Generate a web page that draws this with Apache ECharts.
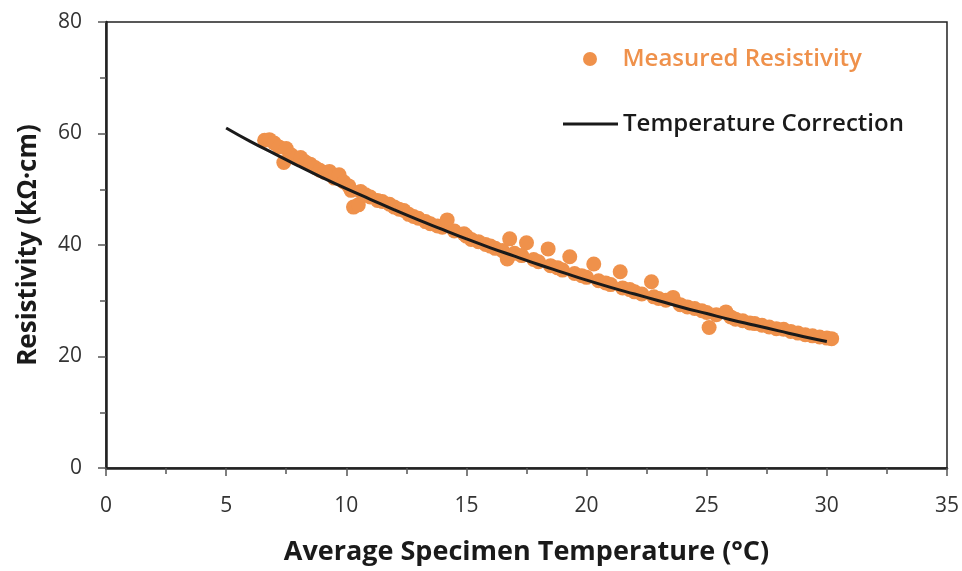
<!DOCTYPE html>
<html>
<head>
<meta charset="utf-8">
<script src="https://cdn.jsdelivr.net/npm/echarts@6/dist/echarts.min.js"></script>
<style>
  html, body { margin: 0; padding: 0; background: #fff; }
  #chart { width: 962px; height: 571px; }
</style>
</head>
<body>
<div id="chart"></div>
<script>
  // measured points, temperature (°C) and resistivity (kΩ·cm)
  let measuredTemp = [6.6, 6.8, 7.0, 7.2, 7.4, 7.5, 7.7, 7.9, 8.1, 8.3, 8.5, 8.7, 8.9, 9.1, 9.3, 9.5, 9.7, 9.9,
    10.1, 10.2, 10.3, 10.5, 10.6, 10.8, 11.0, 11.3, 11.5, 11.8, 12.0, 12.2, 12.4, 12.6, 12.8, 13.0, 13.3, 13.5,
    13.8, 14.0, 14.2, 14.5, 14.9, 15.0, 15.2, 15.5, 15.8, 16.0, 16.2, 16.5, 16.8, 16.7, 17.0, 17.3, 17.5, 17.8,
    18.0, 18.4, 18.5, 18.8, 19.0, 19.3, 19.5, 19.8, 20.0, 20.3, 20.5, 20.8, 21.0, 21.4, 21.5, 21.8, 22.0, 22.3,
    22.7, 22.8, 23.0, 23.3, 23.6, 23.9, 24.2, 24.5, 24.8, 25.0, 25.1, 25.4, 25.8, 26.0, 26.2, 26.5, 26.8, 27.0,
    27.3, 27.6, 27.9, 28.2, 28.5, 28.8, 29.1, 29.4, 29.7, 30.0, 30.2]
  let measuredRes = [58.8, 58.9, 58.3, 57.6, 54.8, 57.3, 56.2, 55.6, 55.7, 54.9, 54.5, 53.9, 53.4, 53.0, 53.2, 52.0, 52.6, 51.3,
    50.6, 49.8, 46.8, 47.2, 49.6, 49.0, 48.6, 48.0, 47.8, 47.3, 46.8, 46.4, 46.2, 45.5, 45.1, 44.8, 44.2, 43.8,
    43.4, 43.2, 44.5, 42.5, 42.0, 41.6, 41.0, 40.6, 40.1, 39.8, 39.4, 39.0, 41.1, 37.5, 38.5, 38.1, 40.4, 37.4,
    37.0, 39.3, 36.3, 35.9, 35.5, 37.9, 34.9, 34.5, 34.2, 36.6, 33.6, 33.2, 32.9, 35.2, 32.3, 32.0, 31.6, 31.2,
    33.4, 30.7, 30.4, 30.1, 30.6, 29.3, 28.9, 28.6, 28.2, 27.9, 25.2, 27.5, 28.0, 27.1, 26.7, 26.4, 26.0, 25.9,
    25.6, 25.3, 25.0, 24.9, 24.5, 24.2, 23.9, 23.7, 23.5, 23.3, 23.2]

  // correction curve
  let curveTemp = [5, 6, 7, 8, 9, 10, 11, 12, 13, 14, 15, 16, 17, 18, 19, 20, 21, 22, 23, 24, 25, 26, 27, 28, 29, 30]
  let curveRes = [61.0, 58.6, 56.4, 54.2, 52.1, 50.1, 48.2, 46.3, 44.5, 42.8, 41.1, 39.5, 38.0, 36.5, 35.1,
    33.7, 32.4, 31.2, 30.0, 28.8, 27.7, 26.6, 25.6, 24.6, 23.6, 22.7]

  let xTicks = [0, 5, 10, 15, 20, 25, 30, 35]
  let yTicks = [0, 20, 40, 60, 80]

  let font = '"Open Sans", "Noto Sans", sans-serif'
  let orange = '#EF914B'

  let chart = echarts.init(document.getElementById('chart'))

  let tickStyle = { show: true, length: 8, lineStyle: { color: '#555', width: 1.5 } }
  let minorStyle = { show: true, splitNumber: 2, length: 6, lineStyle: { color: '#555', width: 1.5 } }

  chart.setOption({
    animation: false,
    backgroundColor: '#fff',
    grid: { left: 106, right: 15, top: 22, bottom: 101, show: true, borderColor: '#222', borderWidth: 1.5 },
    legend: [{
      data: [{ name: 'Measured Resistivity', icon: 'circle' }],
      left: 578, top: 42, itemWidth: 55, itemHeight: 14,
      textStyle: { color: orange, fontFamily: font, fontSize: 24, fontWeight: 600 }
    }, {
      data: [{ name: 'Temperature Correction', icon: 'rect' }],
      left: 558, top: 107, itemWidth: 55, itemHeight: 3,
      textStyle: { color: '#1a1a1a', fontFamily: font, fontSize: 24, fontWeight: 600 }
    }],
    xAxis: {
      type: 'value', min: xTicks[0], max: xTicks[xTicks.length - 1], interval: 5,
      name: 'Average Specimen Temperature (°C)', nameLocation: 'middle', nameGap: 71,
      nameTextStyle: { color: '#1a1a1a', fontFamily: font, fontSize: 27, fontWeight: 'bold' },
      axisLine: { lineStyle: { color: '#222', width: 2.5 } },
      axisTick: tickStyle, minorTick: minorStyle,
      splitLine: { show: false },
      axisLabel: { color: '#333', fontFamily: font, fontSize: 21, margin: 28 }
    },
    yAxis: {
      type: 'value', min: yTicks[0], max: yTicks[yTicks.length - 1], interval: 20,
      name: 'Resistivity (kΩ·cm)', nameLocation: 'middle', nameGap: 64,
      nameTextStyle: { color: '#1a1a1a', fontFamily: font, fontSize: 26, fontWeight: 'bold' },
      axisLine: { show: true, lineStyle: { color: '#222', width: 2.5 } },
      axisTick: tickStyle, minorTick: minorStyle,
      splitLine: { show: false },
      axisLabel: { color: '#333', fontFamily: font, fontSize: 21, margin: 24 }
    },
    series: [{
      name: 'Measured Resistivity',
      type: 'scatter',
      symbolSize: 15,
      itemStyle: { color: orange, opacity: 1 },
      data: measuredTemp.map((t, i) => [t, measuredRes[i]])
    }, {
      name: 'Temperature Correction',
      type: 'line',
      smooth: true,
      symbol: 'none',
      z: 5,
      lineStyle: { color: '#1a1a1a', width: 3 },
      itemStyle: { color: '#1a1a1a' },
      data: curveTemp.map((t, i) => [t, curveRes[i]])
    }]
  })
</script>
</body>
</html>
